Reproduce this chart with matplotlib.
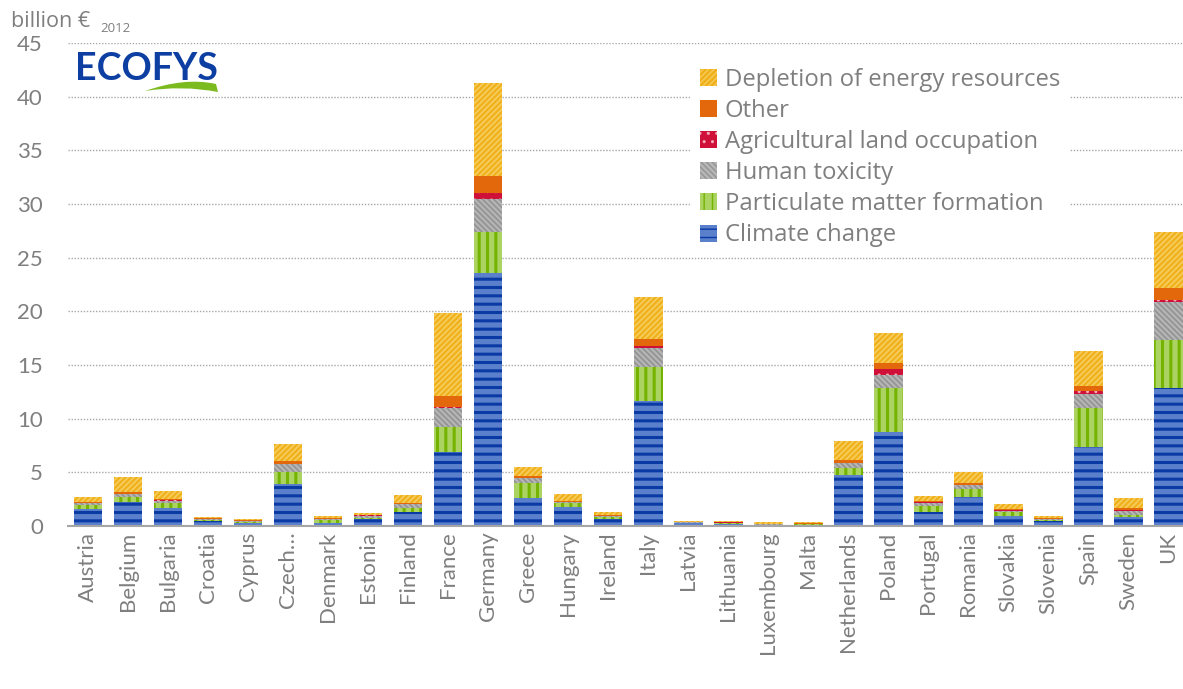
import numpy as np
import matplotlib
matplotlib.use("Agg")
from matplotlib import pyplot as plt
from matplotlib.path import Path
from matplotlib.patches import PathPatch

plt.rcParams['font.family'] = ['Lato', 'DejaVu Sans']

# billion EUR (2012)
countries = ["Austria", "Belgium", "Bulgaria", "Croatia", "Cyprus", "Czech\u2026",
             "Denmark", "Estonia", "Finland", "France", "Germany", "Greece",
             "Hungary", "Ireland", "Italy", "Latvia", "Lithuania", "Luxembourg",
             "Malta", "Netherlands", "Poland", "Portugal", "Romania", "Slovakia",
             "Slovenia", "Spain", "Sweden", "UK"]
climate = [1.55, 2.24, 1.70, 0.50, 0.25, 3.95, 0.30, 0.62, 1.35, 6.90, 23.55, 2.65,
           1.75, 0.68, 11.65, 0.25, 0.22, 0.05, 0.05, 4.75, 8.80, 1.33, 2.73, 0.95,
           0.47, 7.33, 0.81, 12.90]
particulate = [0.45, 0.43, 0.45, 0.10, 0.12, 1.10, 0.25, 0.10, 0.35, 2.35, 3.85, 1.35,
               0.35, 0.15, 3.15, 0.04, 0.05, 0.08, 0.10, 0.68, 4.10, 0.57, 0.72, 0.35,
               0.12, 3.70, 0.22, 4.45]
toxicity = [0.10, 0.31, 0.20, 0.05, 0.10, 0.70, 0.10, 0.25, 0.35, 1.70, 3.10, 0.45,
            0.10, 0.10, 1.83, 0.04, 0.05, 0.04, 0.04, 0.45, 1.18, 0.28, 0.38, 0.12,
            0.08, 1.27, 0.40, 3.48]
agricultural = [0.05, 0.03, 0.03, 0.01, 0.01, 0.05, 0.02, 0.01, 0.03, 0.10, 0.55, 0.03,
                0.02, 0.01, 0.15, 0.01, 0.01, 0.01, 0.01, 0.03, 0.56, 0.03, 0.03, 0.08,
                0.01, 0.28, 0.03, 0.25]
other = [0.10, 0.19, 0.15, 0.06, 0.05, 0.30, 0.05, 0.05, 0.10, 1.10, 1.55, 0.17,
         0.08, 0.05, 0.65, 0.04, 0.05, 0.05, 0.05, 0.25, 0.53, 0.09, 0.19, 0.07,
         0.06, 0.50, 0.20, 1.09]
depletion = [0.45, 1.37, 0.75, 0.12, 0.13, 1.50, 0.25, 0.20, 0.72, 7.65, 8.70, 0.87,
             0.70, 0.32, 3.88, 0.10, 0.10, 0.15, 0.13, 1.77, 2.80, 0.50, 1.00, 0.48,
             0.20, 3.26, 0.99, 5.19]

GREY = "#7f7f7f"
W, H = 1183, 689

fig = plt.figure(figsize=(W / 100, H / 100), dpi=100)
ax = fig.add_axes([68 / W, (H - 526) / H, 1 - 68 / W, (526 - 43) / H])

x = np.arange(len(countries))
series = [
    (climate, "Climate change", "#5a7fcb", "#0a3aa4", "--", 2.2),
    (particulate, "Particulate matter formation", "#abd362", "#74b300", "||", 2.2),
    (toxicity, "Human toxicity", "#b6b6b6", "#949494", "\\" * 6, 1.3),
    (agricultural, "Agricultural land occupation", "#cf1139", "#f4a9b8", "..", 1.0),
    (other, "Other", "#e3680b", "#e3680b", None, 1.0),
    (depletion, "Depletion of energy resources", "#f0b01a", "#f6cc5c", "/" * 6, 1.3),
]

bottom = np.zeros(len(countries))
for vals, label, face, hcol, hatch, hlw in series:
    with plt.rc_context({"hatch.linewidth": hlw, "hatch.color": hcol}):
        bars = ax.bar(x, vals, 0.72, bottom=bottom, color=face, edgecolor=hcol,
                      linewidth=0, hatch=hatch, label=label, zorder=2)
    for p in bars:
        if hasattr(p, "set_hatch_linewidth"):
            p.set_hatch_linewidth(hlw)
    bottom += np.array(vals)

ax.set_xlim(-0.5, 27.37)
ax.set_ylim(0, 45)
ax.set_yticks(np.arange(0, 46, 5))
ax.set_xticks(x)
ax.set_xticklabels(countries, rotation=90)
ax.tick_params(axis="both", length=0, labelsize=16, labelcolor=GREY)
ax.tick_params(axis="y", pad=18)
ax.tick_params(axis="x", pad=4)
ax.yaxis.grid(True, linestyle=(0, (1, 1.2)), color="#a8a8a8", linewidth=1)
ax.set_axisbelow(True)
for s in ["left", "right", "top"]:
    ax.spines[s].set_visible(False)
ax.spines["bottom"].set_color("#a6a6a6")
ax.spines["bottom"].set_linewidth(1.5)
ax.spines["bottom"].set_zorder(3)

handles, labels = ax.get_legend_handles_labels()
leg = fig.legend(handles[::-1], labels[::-1], loc="upper left",
                 bbox_to_anchor=(690 / W, 1 - 58 / H),
                 prop={"family": ["Open Sans", "DejaVu Sans"], "size": 17.2},
                 frameon=True, framealpha=1, edgecolor="none", facecolor="white",
                 fancybox=False, borderpad=0.4, borderaxespad=0,
                 handlelength=0.72, handleheight=0.72, handletextpad=0.34,
                 labelspacing=0.3)
for t in leg.get_texts():
    t.set_color(GREY)

# unit label
fig.text(11 / W, 1 - 27 / H, "billion \u20ac", fontsize=15.5, color=GREY, va="baseline",
         family=["Open Sans", "DejaVu Sans"])
fig.text(100 / W, 1 - 32 / H, "2012", fontsize=9.5, color=GREY, va="baseline",
         family=["Open Sans", "DejaVu Sans"])

# logo
fig.text(75 / W, 1 - 80 / H, "ECOFYS", fontsize=27, fontweight="bold",
         color="#0d3fa3", va="baseline")
pts = [(145, 91), (185, 77), (216, 84), (218, 92), (182, 85), (145, 91)]
verts = [(px / W, 1 - py / H) for px, py in pts]
codes = [Path.MOVETO, Path.CURVE3, Path.CURVE3, Path.LINETO, Path.CURVE3, Path.CURVE3]
fig.patches.append(PathPatch(Path(verts, codes), transform=fig.transFigure,
                             facecolor="#7cbb1f", edgecolor="none"))

fig.savefig("out.png", dpi=100)
